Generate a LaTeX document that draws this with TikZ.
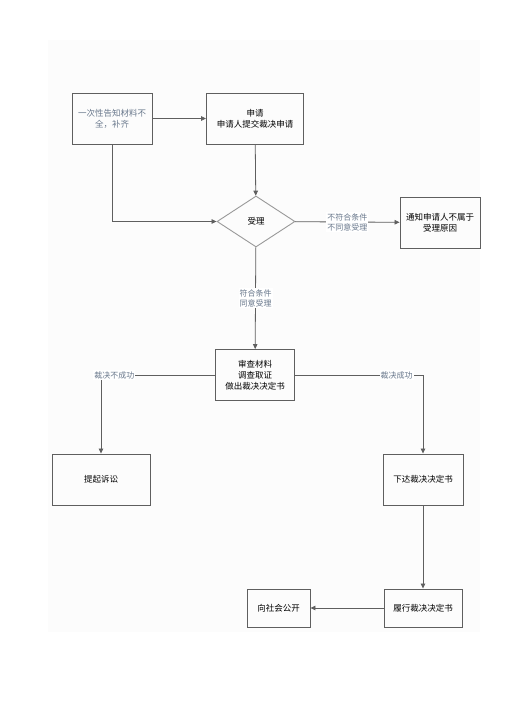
\documentclass[tikz,border=0pt]{standalone}
\usepackage{fontspec}
\setmainfont{Noto Sans CJK SC}
\usepackage{tikz}
\usetikzlibrary{arrows.meta,positioning,shapes.geometric}
\definecolor{linecolor}{RGB}{95,95,95}
\definecolor{labelcolor}{RGB}{105,120,140}

\begin{document}
\begin{tikzpicture}[
    x=1pt, y=-1pt,
    stepbox/.style={rectangle, draw=linecolor, line width=0.9pt, minimum width=80pt, minimum height=51pt, align=center, font=\fontsize{8.5}{11}\selectfont, inner sep=2pt},
    smallbox/.style={stepbox, minimum height=38pt},
    decision/.style={diamond, draw=gray!80, line width=0.9pt, minimum width=78pt, minimum height=51pt, inner sep=0pt, font=\fontsize{8.5}{11}\selectfont},
    arrow/.style={-{Triangle[length=5pt,width=4.5pt]}, draw=linecolor, line width=0.8pt},
    edgelabel/.style={fill=white, text=labelcolor, align=center, font=\fontsize{8}{10}\selectfont, inner sep=1pt}
]
    \useasboundingbox (0,0) rectangle (524,704);
    \fill[black!1] (48,40) rectangle (480,632);

    \node[stepbox, text=labelcolor] (fix) at (112,118.5) {一次性告知材料不\\全，补齐};
    \node[stepbox, minimum width=97pt] (apply) at (255,118.5) {申请\\申请人提交裁决申请};
    \node[decision] (accept) at (256,221.5) {受理};
    \node[stepbox] (notify) at (440,222.5) {通知申请人不属于\\受理原因};
    \node[stepbox, minimum width=79pt] (review) at (255,375) {审查材料\\调查取证\\做出裁决决定书};
    \node[stepbox, minimum width=98pt] (sue) at (101,479.5) {提起诉讼};
    \node[stepbox] (issue) at (423,479.5) {下达裁决决定书};
    \node[smallbox, minimum width=78pt] (perform) at (423,608) {履行裁决决定书};
    \node[smallbox, minimum width=63pt] (public) at (278.5,608) {向社会公开};

    \draw[arrow] (fix.east) -- (apply.west);
    \draw[arrow] (apply) -- (accept);
    \draw[arrow] (fix.south) |- (accept.west);
    \draw[arrow] (accept) -- node[edgelabel] {不符合条件\\不同意受理} (notify);
    \draw[arrow] (accept) -- node[edgelabel] {符合条件\\同意受理} (review);
    \draw[arrow] (review.west) -| node[edgelabel, pos=0.5, anchor=west, xshift=-8pt] {裁决不成功} (sue.north);
    \draw[arrow] (review.east) -| node[edgelabel, pos=0.5, anchor=east, xshift=-9pt] {裁决成功} (issue.north);
    \draw[arrow] (issue) -- (perform);
    \draw[arrow] (perform) -- (public);
\end{tikzpicture}
\end{document}
